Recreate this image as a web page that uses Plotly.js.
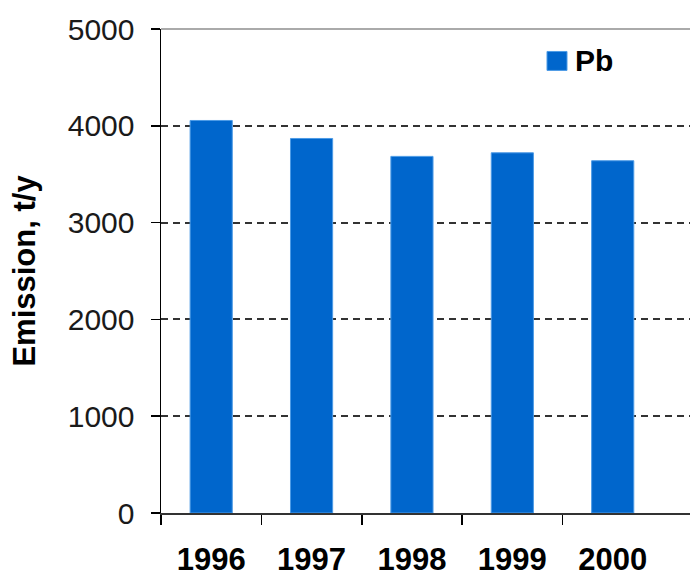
<!DOCTYPE html>
<html>
<head>
<meta charset="utf-8">
<script src="https://cdn.plot.ly/plotly-3.0.1.min.js"></script>
<style>html,body{margin:0;padding:0;background:#fff;}#chart{width:690px;height:576px;}</style>
</head>
<body>
<div id="chart"></div>
<script>
const years = [1996, 1997, 1998, 1999, 2000];
const yearLabels = ['1996', '1997', '1998', '1999', '2000'];
const pbEmission = [4055, 3869, 3684, 3721, 3639];
const seriesName = 'Pb';
const yTickVals = [0, 1000, 2000, 3000, 4000, 5000];

const FONT = '"Liberation Sans", Arial, sans-serif';

const trace = {
  type: 'bar',
  x: years,
  y: pbEmission,
  name: seriesName,
  width: 0.42,
  marker: {color: '#0066CC', line: {color: '#4d9be6', width: 1}},
  showlegend: false
};

const layout = {
  width: 690,
  height: 576,
  margin: {l: 161, r: 0, t: 28.5, b: 62.7, pad: 0},
  paper_bgcolor: '#fff',
  plot_bgcolor: '#fff',
  font: {family: FONT, color: '#000'},
  xaxis: {
    type: 'linear',
    range: [years[0] - 0.5, years[years.length - 1] + 0.77],
    tickvals: years,
    ticktext: yearLabels,
    ticks: '',
    minor: {
      tickvals: years.map(y => y - 0.5),
      ticks: 'outside',
      ticklen: 10,
      tickwidth: 1.5,
      tickcolor: '#000',
      showgrid: false
    },
    showline: true,
    linecolor: '#333',
    linewidth: 2,
    showgrid: false,
    zeroline: false,
    ticklabelstandoff: 18,
    tickfont: {family: FONT, size: 31, color: '#000', weight: 'bold'},
    fixedrange: true
  },
  yaxis: {
    range: [0, 5000],
    tickvals: yTickVals,
    ticktext: yTickVals.map(String),
    ticks: 'outside',
    ticklen: 9,
    tickwidth: 1.5,
    tickcolor: '#000',
    showline: true,
    linecolor: '#000',
    linewidth: 1.5,
    showgrid: true,
    gridcolor: '#333',
    gridwidth: 1.8,
    griddash: '7px,5px',
    zeroline: false,
    ticklabelstandoff: 10,
    tickfont: {family: FONT, size: 30, color: '#1a1a1a'},
    title: {text: 'Emission, t/y', font: {family: FONT, size: 31, color: '#000', weight: 'bold'}, standoff: 23},
    automargin: false,
    fixedrange: true
  },
  shapes: [
    {type: 'line', xref: 'paper', yref: 'paper', x0: 0, x1: 1, y0: 1, y1: 1, line: {color: '#aaaaaa', width: 2}},
    {type: 'rect', xref: 'paper', yref: 'paper', x0: (547-161)/529, x1: (567-161)/529, y0: (576-62.7-70)/484.8, y1: (576-62.7-51)/484.8, fillcolor: '#0066CC', line: {color: '#4d9be6', width: 1}}
  ],
  annotations: [
    {xref: 'paper', yref: 'paper', x: (573-161)/529, y: (576-62.7-60.5)/484.8, xanchor: 'left', yanchor: 'middle', showarrow: false, text: seriesName, font: {family: FONT, size: 30, color: '#000', weight: 'bold'}}
  ]
};

Plotly.newPlot('chart', [trace], layout, {displayModeBar: false, staticPlot: true});
</script>
</body>
</html>
